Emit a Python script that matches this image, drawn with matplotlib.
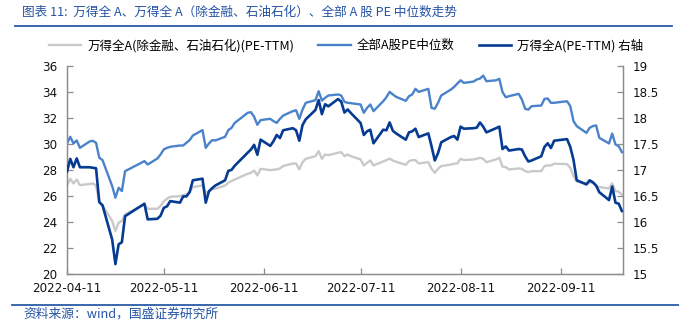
import matplotlib
matplotlib.use("Agg")
import matplotlib.pyplot as plt
import matplotlib.dates as mdates
from matplotlib.lines import Line2D
import pandas as pd

plt.rcParams['font.family'] = ['DejaVu Sans', 'Noto Sans CJK SC']

# Trading calendar (SSE), 2022-04-11 .. 2022-09-30
holidays = ["2022-05-02", "2022-05-03", "2022-05-04", "2022-06-03", "2022-09-12"]
dates = pd.bdate_range("2022-04-11", "2022-09-30")
dates = dates[~dates.isin(pd.to_datetime(holidays))]

# 万得全A(除金融、石油石化)(PE-TTM), left axis
pe_ex_fin = [
    26.80, 27.31, 26.96, 27.26, 26.83, 26.91, 26.96, 26.80, 25.52, 25.27,
    24.07, 23.30, 23.94, 24.07, 24.58,
    25.35, 25.01, 25.01, 25.22, 25.60, 25.78, 25.93, 25.98, 26.06, 26.11,
    26.29, 26.68, 26.80, 26.24, 26.32, 26.50, 26.55, 26.80, 27.01,
    27.14, 27.26, 27.70, 27.77, 27.95, 27.57, 28.08, 27.98, 28.01, 28.03,
    28.11, 28.29, 28.49, 28.49, 28.03, 28.59, 28.85, 29.05, 29.44, 28.85,
    29.18,
    29.13, 29.31, 29.36, 29.05, 29.18, 29.05, 28.80, 28.34, 28.54, 28.72,
    28.34, 28.64, 28.75, 28.87, 28.72, 28.62, 28.39, 28.67, 28.75, 28.75,
    28.49,
    28.59, 28.08, 27.77, 28.08, 28.29, 28.41, 28.47, 28.49, 28.85, 28.75,
    28.80, 28.85, 28.93, 28.85, 28.59, 28.80, 28.93, 28.24, 28.21, 28.03,
    28.11, 28.08, 27.90,
    27.83, 27.90, 27.90, 28.29, 28.34, 28.34, 28.47, 28.44, 28.16, 27.52,
    27.11, 26.96, 27.01, 27.06, 26.75, 26.68, 26.57, 26.96, 26.37, 26.32,
    26.11,
]

# 全部A股PE中位数, left axis
pe_median = [
    30.03, 30.54, 30.03, 30.26, 29.69, 30.18, 30.23, 30.08, 28.93, 28.75,
    26.75, 25.86, 26.62, 26.37, 27.90,
    28.67, 28.41, 28.87, 29.18, 29.57, 29.69, 29.77, 29.87, 29.87, 30.08,
    30.28, 30.64, 31.05, 29.69, 30.03, 30.28, 30.26, 30.54, 31.05,
    31.23, 31.61, 32.38, 32.43, 32.07, 31.46, 31.82, 31.92, 31.74, 31.61,
    31.92, 32.17, 32.51, 32.58, 31.92, 32.63, 33.15, 33.35, 34.04, 33.32,
    33.53,
    33.71, 33.79, 33.71, 33.22, 33.15, 33.12, 33.02, 32.38, 32.76, 33.02,
    32.51, 33.27, 33.58, 33.99, 33.79, 33.61, 33.30, 33.66, 33.79, 34.22,
    33.99,
    34.22, 32.76, 32.69, 33.15, 33.71, 34.17, 34.37, 34.63, 34.88, 34.68,
    34.78, 34.94, 35.01, 35.24, 34.81, 34.88, 34.99, 33.96, 33.58, 33.66,
    33.84, 33.40, 32.69,
    32.63, 32.89, 32.94, 33.45, 33.48, 33.15, 33.15, 33.27, 32.89, 31.74,
    31.36, 30.84, 31.23, 31.36, 31.41, 30.46, 30.03, 30.79, 29.95, 29.82,
    29.36,
]

# 万得全A(PE-TTM), right axis
pe_all_a = [
    16.97, 17.21, 17.05, 17.22, 17.05, 17.05, 17.04, 17.03, 16.38, 16.32,
    15.66, 15.19, 15.57, 15.61, 16.11,
    16.35, 16.05, 16.06, 16.12, 16.27, 16.30, 16.40, 16.37, 16.49, 16.49,
    16.57, 16.80, 16.83, 16.37, 16.59, 16.65, 16.70, 16.80, 16.98,
    17.00, 17.08, 17.33, 17.39, 17.48, 17.29, 17.58, 17.46, 17.55, 17.67,
    17.61, 17.76, 17.80, 17.76, 17.56, 17.86, 17.97, 18.15, 18.34, 18.07,
    18.26,
    18.22, 18.36, 18.31, 18.10, 18.16, 18.09, 17.90, 17.67, 17.74, 17.77,
    17.51, 17.77, 17.76, 17.91, 17.75, 17.70, 17.58, 17.72, 17.74, 17.79,
    17.63,
    17.70, 17.45, 17.18, 17.32, 17.53, 17.63, 17.65, 17.58, 17.83, 17.79,
    17.80, 17.81, 17.91, 17.83, 17.72, 17.80, 17.83, 17.40, 17.45, 17.37,
    17.40, 17.39, 17.26,
    17.16, 17.18, 17.26, 17.44, 17.51, 17.42, 17.56, 17.59, 17.44, 17.19,
    16.80, 16.72, 16.80, 16.76, 16.70, 16.57, 16.42, 16.68, 16.37, 16.35,
    16.21,
]

tick_dates = ["2022-04-11", "2022-05-11", "2022-06-11",
              "2022-07-11", "2022-08-11", "2022-09-11"]
left_ticks = [20, 22, 24, 26, 28, 30, 32, 34, 36]
right_ticks = [15, 15.5, 16, 16.5, 17, 17.5, 18, 18.5, 19]
right_labels = ["15", "15.5", "16", "16.5", "17", "17.5", "18", "18.5", "19"]

labels = ["万得全A(除金融、石油石化)(PE-TTM)", "全部A股PE中位数", "万得全A(PE-TTM) 右轴"]
c_gray = "#c9c9c9"
c_mid = "#4a82cb"
c_dark = "#063b93"
c_title = "#2453a4"
c_axis = "#8c8c8c"
cjk = ['Noto Sans CJK SC', 'DejaVu Sans']

fig = plt.figure(figsize=(6.79, 3.28), dpi=100)
ax = fig.add_axes([0.0987, 0.1646, 0.8188, 0.6351])
ax2 = ax.twinx()

ax.plot(dates, pe_ex_fin, color=c_gray, lw=1.7, solid_joinstyle="round", zorder=2)
ax.plot(dates, pe_median, color=c_mid, lw=1.7, solid_joinstyle="round", zorder=3)
ax2.plot(dates, pe_all_a, color=c_dark, lw=1.9, solid_joinstyle="round", zorder=4)

ax.set_xlim(pd.Timestamp("2022-04-11"), pd.Timestamp("2022-09-30 08:00"))
ax.set_ylim(20, 36)
ax2.set_ylim(15, 19)
ax.set_yticks(left_ticks)
ax2.set_yticks(right_ticks)
ax2.set_yticklabels(right_labels)
ax.set_xticks(pd.to_datetime(tick_dates))
ax.xaxis.set_major_formatter(mdates.DateFormatter("%Y-%m-%d"))

for a in (ax, ax2):
    a.spines["top"].set_visible(False)
    for s in ("left", "right", "bottom"):
        a.spines[s].set_color(c_axis)
        a.spines[s].set_linewidth(0.9)
    a.tick_params(direction="in", length=4, width=0.9, color=c_axis,
                  labelsize=8.6, labelcolor="#111111", pad=4)
ax.tick_params(axis="x", pad=6)
ax.tick_params(axis="y", pad=7)
ax2.tick_params(axis="y", pad=7)

# Legend across the top
handles = [Line2D([], [], color=c_gray, lw=1.7),
           Line2D([], [], color=c_mid, lw=1.7),
           Line2D([], [], color=c_dark, lw=1.9)]
fig.legend(handles, labels, loc="center", bbox_to_anchor=(0.510, 0.862),
           ncol=3, frameon=False, prop={'family': cjk, 'size': 9.0},
           handlelength=2.6, handletextpad=0.5, columnspacing=1.9)

# Header and footer
fig.text(0.033, 0.962, "图表 11:  万得全 A、万得全 A（除金融、石油石化）、全部 A 股 PE 中位数走势",
         family=cjk, fontsize=9.1, color=c_title, va="center", ha="left", style="italic")
fig.add_artist(Line2D([0.022, 0.99], [0.921, 0.921], color="#2a5aa8", lw=1.3,
                      transform=fig.transFigure))
fig.add_artist(Line2D([0.018, 1.0], [0.070, 0.070], color="#2a5aa8", lw=1.3,
                      transform=fig.transFigure))
fig.text(0.035, 0.043, "资料来源：wind，国盛证券研究所", family=cjk, fontsize=9.2,
         color=c_title, va="center", ha="left", style="italic")

fig.savefig("out.png", dpi=100)
